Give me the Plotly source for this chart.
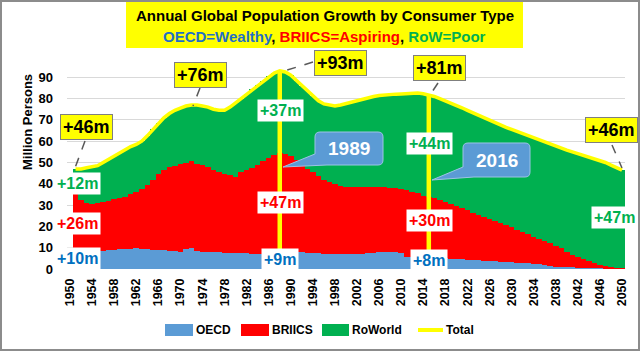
import plotly.graph_objects as go

# ---------------- data ----------------
years = list(range(1951, 2051))
tick_years = list(range(1950, 2051, 4))
y_ticks = list(range(0, 100, 10))

oecd = [10.0, 10.0, 9.8, 9.5, 9.0, 8.5, 9.0, 9.0, 9.2, 9.5,
        9.5, 9.7, 9.5, 9.2, 9.0, 9.0, 8.8, 8.5, 8.3, 8.2,
        9.5, 9.8, 8.5, 8.0, 8.0, 8.0, 7.8, 7.5, 7.5, 7.5,
        7.5, 7.3, 7.0, 7.0, 7.2, 7.5, 8.0, 8.5, 8.5, 8.5,
        8.0, 7.8, 7.5, 7.5, 7.3, 7.0, 7.0, 7.0, 7.0, 7.0,
        7.0, 7.0, 7.2, 7.5, 7.5, 7.8, 8.0, 8.0, 7.8, 7.5,
        5.8, 5.6, 5.5, 5.4, 5.3, 5.2, 5.1, 5.0, 4.8, 4.6,
        4.5, 4.3, 4.2, 4.0, 3.9, 3.8, 3.6, 3.5, 3.3, 3.2,
        3.0, 2.8, 2.6, 2.5, 2.3, 2.1, 1.2, 1.1, 1.0, 0.9,
        0.8, 0.7, 0.6, 0.5, 0.4, 0.3, 0.3, 0.2, 0.2, 0.2]

briics = [25.0, 22.5, 21.0, 21.0, 22.0, 23.0, 23.0, 24.0, 24.3, 24.5,
          25.5, 26.3, 28.0, 30.3, 33.0, 35.5, 37.7, 39.5, 40.2, 41.3,
          40.5, 40.7, 41.0, 41.0, 40.0, 38.5, 37.7, 37.0, 36.5, 35.5,
          38.0, 39.2, 40.5, 42.0, 43.3, 44.5, 45.5, 46.0, 45.5, 44.5,
          43.0, 40.7, 39.5, 38.0, 36.2, 35.0, 33.8, 32.8, 32.0, 31.5,
          31.5, 31.3, 31.1, 31.0, 31.0, 30.7, 30.3, 30.2, 30.2, 30.0,
          31.2, 30.4, 30.0, 29.1, 28.5, 28.1, 27.4, 26.5, 25.7, 24.9,
          24.0, 23.2, 22.3, 21.5, 20.6, 19.7, 18.9, 18.0, 17.2, 16.3,
          15.5, 14.5, 13.6, 12.5, 11.7, 10.9, 10.8, 9.9, 8.8, 6.9,
          6.0, 5.1, 4.2, 3.1, 2.2, 1.5, 0.9, 0.6, 0.3, 0.2]

row = [12.0, 14.5, 16.7, 17.5, 17.5, 18.5, 19.5, 20.0, 21.0, 22.0,
       22.5, 22.5, 22.5, 23.0, 23.5, 24.0, 24.5, 25.0, 26.0, 26.0,
       26.5, 26.5, 27.5, 27.5, 28.0, 28.5, 29.0, 30.0, 32.0, 35.0,
       34.5, 35.5, 37.0, 37.5, 38.0, 38.5, 38.5, 38.5, 38.5, 38.0,
       37.5, 37.5, 36.5, 35.5, 35.5, 35.5, 36.0, 36.7, 38.0, 39.2,
       39.9, 40.9, 41.5, 41.9, 42.5, 43.0, 43.5, 43.8, 44.1, 44.7,
       45.4, 46.6, 47.1, 47.8, 48.0, 47.7, 47.5, 47.5, 47.5, 47.5,
       47.2, 47.0, 46.8, 46.7, 46.5, 46.5, 46.3, 46.0, 46.0, 46.0,
       46.0, 46.3, 46.5, 46.8, 46.8, 46.8, 46.8, 46.8, 47.0, 48.0,
       48.2, 48.4, 48.6, 49.0, 49.2, 49.2, 48.8, 48.0, 47.1, 46.0]

total = [47.0, 47.0, 47.5, 48.0, 48.5, 50.0, 51.5, 53.0, 54.5, 56.0,
         57.5, 58.5, 60.0, 62.5, 65.5, 68.5, 71.0, 73.0, 74.5, 75.5,
         76.5, 77.0, 77.0, 76.5, 76.0, 75.0, 74.5, 74.5, 76.0, 78.0,
         80.0, 82.0, 84.5, 86.5, 88.5, 90.5, 92.0, 93.0, 92.5, 91.0,
         88.5, 86.0, 83.5, 81.0, 79.0, 77.5, 76.8, 76.5, 77.0, 77.7,
         78.4, 79.2, 79.8, 80.4, 81.0, 81.5, 81.8, 82.0, 82.1, 82.2,
         82.4, 82.6, 82.6, 82.3, 81.8, 81.0, 80.0, 79.0, 78.0, 77.0,
         75.7, 74.5, 73.3, 72.2, 71.0, 70.0, 68.8, 67.5, 66.5, 65.5,
         64.5, 63.6, 62.7, 61.8, 60.8, 59.8, 58.8, 57.8, 56.8, 55.8,
         55.0, 54.2, 53.4, 52.6, 51.8, 51.0, 50.0, 48.8, 47.6, 46.4]

marker_years = [1988, 2015]

# ---------------- layout geometry ----------------
W, H = 640, 351
ML, MR, MT, MB = 67, 15, 56, 82
PW = W - ML - MR
PH = H - MT - MB
FONT = "Liberation Sans"

BLUE, RED, GREEN, YEL = "#5B9BD5", "#FF0000", "#00B050", "#FFFF00"
TBLUE = "#0070C0"


def xp(px):
    return (px - ML) / PW


def yp(py):
    return (H - MB - py) / PH


fig = go.Figure()
fig.add_bar(x=years, y=oecd, name="OECD", marker=dict(color=BLUE, line=dict(width=0)))
fig.add_bar(x=years, y=briics, name="BRIICS", marker=dict(color=RED, line=dict(width=0)))
fig.add_bar(x=years, y=row, name="RoWorld", marker=dict(color=GREEN, line=dict(width=0)))
fig.add_scatter(x=years, y=total, name="Total", mode="lines",
                line=dict(color=YEL, width=3.5))

shapes = []
annotations = []

# vertical marker lines
for yr in marker_years:
    shapes.append(dict(type="line", xref="x", yref="y", x0=yr, x1=yr, y0=0,
                       y1=total[years.index(yr)], line=dict(color=YEL, width=4.5),
                       layer="above"))

# outer border
shapes.append(dict(type="rect", xref="paper", yref="paper", x0=xp(1), x1=xp(639),
                   y0=yp(350), y1=yp(1), line=dict(color="#8C8C8C", width=2)))

# title box
shapes.append(dict(type="rect", xref="paper", yref="paper", x0=xp(126), x1=xp(523),
                   y0=yp(48), y1=yp(2), fillcolor=YEL, line=dict(width=0)))
annotations.append(dict(xref="paper", yref="paper", x=xp(324.5), y=yp(15),
                        text="<b>Annual Global Population Growth by Consumer Type</b>",
                        showarrow=False, font=dict(family=FONT, size=15, color="black"),
                        xanchor="center", yanchor="middle"))
annotations.append(dict(xref="paper", yref="paper", x=xp(324.5), y=yp(36),
                        text=("<b><span style='color:%s'>OECD=Wealthy</span>, "
                              "<span style='color:%s'>BRIICS=Aspiring</span>, "
                              "<span style='color:%s'>RoW=Poor</span></b>") % ("#1F6FC6", RED, GREEN),
                        showarrow=False, font=dict(family=FONT, size=15, color="black"),
                        xanchor="center", yanchor="middle"))

# y axis title
annotations.append(dict(xref="paper", yref="paper", x=xp(27), y=yp(122),
                        text="<b>Million Persons</b>", textangle=-90, showarrow=False,
                        font=dict(family=FONT, size=13, color="black"),
                        xanchor="center", yanchor="middle"))

# dashed leader lines
for (a, b, c, d) in [(85, 141, 75, 168), (200, 88, 193, 106), (313, 62, 281, 72),
                     (438, 83, 430, 95), (612, 145, 622, 168)]:
    shapes.append(dict(type="line", xref="paper", yref="paper", x0=xp(a), y0=yp(b),
                       x1=xp(c), y1=yp(d), line=dict(color="#595959", width=1.5, dash="dash")))

# yellow total boxes
for txt, cx, cy in [("+46m", 86, 127), ("+76m", 200, 75), ("+93m", 340, 62.5),
                    ("+81m", 439, 68.5), ("+46m", 611.5, 130)]:
    annotations.append(dict(xref="paper", yref="paper", x=xp(cx), y=yp(cy),
                            text="<b>%s</b>" % txt, showarrow=False,
                            font=dict(family=FONT, size=18, color="black"),
                            bgcolor=YEL, bordercolor="#7F7F7F", borderwidth=1, borderpad=2,
                            xanchor="center", yanchor="middle"))

# white value labels
for txt, col, cx, cy in [("+12m", GREEN, 77, 183), ("+26m", RED, 77, 223), ("+10m", TBLUE, 77, 258),
                         ("+37m", GREEN, 280, 110), ("+47m", RED, 280, 202), ("+9m", TBLUE, 280, 259),
                         ("+44m", GREEN, 429, 143), ("+30m", RED, 429, 220), ("+8m", TBLUE, 429, 260),
                         ("+47m", GREEN, 614, 217)]:
    annotations.append(dict(xref="paper", yref="paper", x=xp(cx), y=yp(cy),
                            text="<b>%s</b>" % txt, showarrow=False,
                            font=dict(family=FONT, size=16, color=col),
                            bgcolor="white", borderpad=2,
                            xanchor="center", yanchor="middle"))


# callouts
def callout(x0, y0, x1, y1, r, b1, tip, b2):
    pts = []

    def P(px, py):
        return "%.5f,%.5f" % (xp(px), yp(py))
    path = "M%s L%s Q%s %s L%s Q%s %s L%s L%s L%s L%s L%s Q%s %s Z" % (
        P(x0 + r, y0), P(x1 - r, y0), P(x1, y0), P(x1, y0 + r),
        P(x1, y1 - r), P(x1, y1), P(x1 - r, y1),
        P(b2[0], b2[1]), P(tip[0], tip[1]), P(b1[0], b1[1]),
        P(x0, y0 + r), P(x0 + r, y0), P(x0, y0), P(x0 + r, y0))
    # simple fix: rebuild properly with left-bottom corner handled by wedge
    path = ("M%s L%s Q%s %s L%s Q%s %s L%s L%s L%s L%s Q%s %s Z" % (
        P(x0 + r, y0), P(x1 - r, y0), P(x1, y0), P(x1, y0 + r),
        P(x1, y1 - r), P(x1, y1), P(x1 - r, y1),
        P(b2[0], b2[1]), P(tip[0], tip[1]), P(b1[0], b1[1]),
        P(x0, y0 + r), P(x0, y0), P(x0 + r, y0)))
    return dict(type="path", xref="paper", yref="paper", path=path,
                fillcolor=BLUE, line=dict(color="#9DC3E6", width=1), layer="above")


shapes.append(callout(315, 132, 383, 165, 5, (315, 154), (283, 167), (327, 165)))
shapes.append(callout(463, 143, 530, 177, 5, (463, 167), (432, 180), (474, 177)))
for txt, cx, cy in [("1989", 349, 148.5), ("2016", 496.5, 160)]:
    annotations.append(dict(xref="paper", yref="paper", x=xp(cx), y=yp(cy),
                            text="<b>%s</b>" % txt, showarrow=False,
                            font=dict(family=FONT, size=19, color="white"),
                            xanchor="center", yanchor="middle"))

# custom legend
legend_items = [("OECD", BLUE, 165, 193, "bar"), ("BRIICS", RED, 241, 269, "bar"),
                ("RoWorld", GREEN, 322, 349, "bar"), ("Total", YEL, 418, 443, "line")]
for name, col, a, b, kind in legend_items:
    if kind == "bar":
        shapes.append(dict(type="rect", xref="paper", yref="paper", x0=xp(a), x1=xp(b),
                           y0=yp(336), y1=yp(324), fillcolor=col, line=dict(width=0)))
    else:
        shapes.append(dict(type="line", xref="paper", yref="paper", x0=xp(a), x1=xp(b),
                           y0=yp(330), y1=yp(330), line=dict(color=col, width=4)))
    annotations.append(dict(xref="paper", yref="paper", x=xp(b + 1), y=yp(330),
                            text="<b>%s</b>" % name, showarrow=False,
                            font=dict(family=FONT, size=12, color="black"),
                            xanchor="left", yanchor="middle"))

fig.update_layout(
    width=W, height=H, margin=dict(l=ML, r=MR, t=MT, b=MB, pad=0),
    barmode="stack", bargap=0, showlegend=False,
    plot_bgcolor="white", paper_bgcolor="white",
    shapes=shapes, annotations=annotations,
    xaxis=dict(range=[1950 - 3 / 5.52, 2050 + 3 / 5.52], tickmode="array", tickvals=tick_years,
               ticktext=[str(t) for t in tick_years], tickangle=-90, showgrid=False,
               zeroline=False, showline=False, ticks="", ticklabelstandoff=6,
               tickfont=dict(family=FONT, size=12.5, color="black", weight="bold")),
    yaxis=dict(range=[0, 100], tickmode="array", tickvals=y_ticks, showgrid=True,
               gridcolor="#D9D9D9", gridwidth=1, zeroline=False, showline=False, ticks="",
               ticklabelstandoff=13,
               tickfont=dict(family=FONT, size=13, color="black", weight="bold")),
)

fig.write_html("out.html")
